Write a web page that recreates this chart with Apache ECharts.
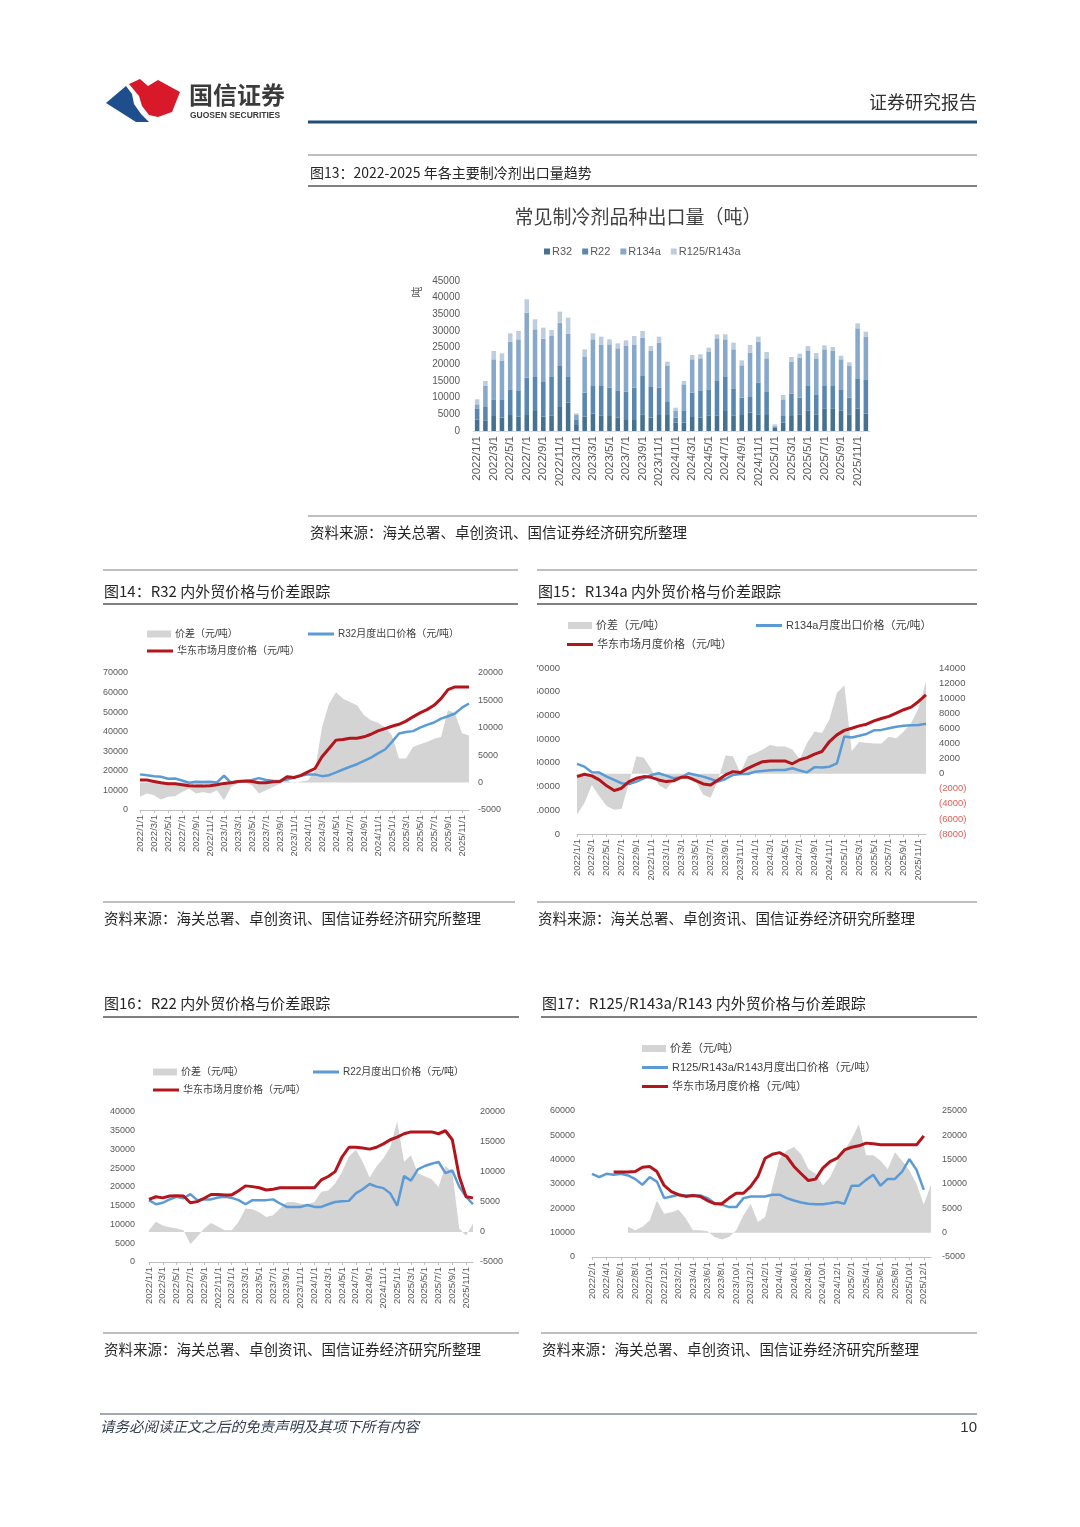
<!DOCTYPE html>
<html><head><meta charset="utf-8">
<script src="https://cdn.jsdelivr.net/npm/echarts@6/dist/echarts.min.js"></script>
<style>html,body{margin:0;padding:0;background:#fff}#c{width:1080px;height:1527px}</style>
</head><body><div id="c"></div>
<script>
// ---------- categories ----------
const months = ['2022/1/1','2022/2/1','2022/3/1','2022/4/1','2022/5/1','2022/6/1','2022/7/1','2022/8/1','2022/9/1','2022/10/1','2022/11/1','2022/12/1',
'2023/1/1','2023/2/1','2023/3/1','2023/4/1','2023/5/1','2023/6/1','2023/7/1','2023/8/1','2023/9/1','2023/10/1','2023/11/1','2023/12/1',
'2024/1/1','2024/2/1','2024/3/1','2024/4/1','2024/5/1','2024/6/1','2024/7/1','2024/8/1','2024/9/1','2024/10/1','2024/11/1','2024/12/1',
'2025/1/1','2025/2/1','2025/3/1','2025/4/1','2025/5/1','2025/6/1','2025/7/1','2025/8/1','2025/9/1','2025/10/1','2025/11/1','2025/12/1'];
const months17 = ['2022/2/1','2022/3/1','2022/4/1','2022/5/1','2022/6/1','2022/7/1','2022/8/1','2022/9/1','2022/10/1','2022/11/1','2022/12/1',
'2023/1/1','2023/2/1','2023/3/1','2023/4/1','2023/5/1','2023/6/1','2023/7/1','2023/8/1','2023/9/1','2023/10/1','2023/11/1','2023/12/1',
'2024/1/1','2024/2/1','2024/3/1','2024/4/1','2024/5/1','2024/6/1','2024/7/1','2024/8/1','2024/9/1','2024/10/1','2024/11/1','2024/12/1',
'2025/1/1','2025/2/1','2025/3/1','2025/4/1','2025/5/1','2025/6/1','2025/7/1','2025/8/1','2025/9/1','2025/10/1','2025/11/1','2025/12/1','2026/1/1'];

// ---------- Fig 13: export volumes (t) ----------
const volR32 = [3500,3200,4500,4000,4800,4300,4800,6000,4300,4700,7200,8500, 1800,4300,5200,4700,4500,4000,3300,3300,5000,4000,4800,4800, 2500,2500,4200,4000,4700,4700,6000,4700,4800,5500,5000,4800, 1000,2500,4500,5000,6200,5000,6800,6800,6200,5000,6700,5200];
const volR22 = [3300,4000,5000,5500,7700,7700,11200,10200,10400,11500,12300,7700, 1700,7200,8500,8800,8500,8200,8500,9700,11500,9200,8200,3900, 1500,3700,7300,8200,7800,10500,10200,8100,5200,4700,9500,6900, 300,2000,6700,5000,7300,5800,6700,6700,6100,5000,9100,10300];
const volR134a = [1200,6300,12000,11500,14300,15500,19500,14300,13000,12300,13000,13000, 1300,10700,13800,12300,13000,12600,13700,12800,11500,10800,13500,10800, 2000,7800,10000,9600,11200,12600,11300,11700,9700,13300,12300,10100, 300,5000,9600,12000,10700,11000,11000,10500,9200,9500,15000,12700];
const volR125 = [1500,1500,2500,2300,2500,2500,4000,3000,3300,1800,3300,4800, 500,2300,1800,2500,1500,1500,1700,2700,2000,1500,1800,1300, 1000,1000,1300,1200,1300,1200,1500,2000,1500,2300,1500,1900, 400,1300,1400,1200,1300,1600,1200,1200,1100,1100,1500,1600];

// ---------- Fig 14: R32 ----------
const r32Spread = [-2600,-2000,-2300,-3100,-2600,-2500,-1700,-1100,-2000,-1700,-2000,-1400,-3200,-800,-100,0,-500,-2000,-1400,-800,-200,400,-100,200,400,2200,10100,14400,16500,15300,14700,14100,12300,11400,10900,10100,8600,4400,4400,6500,7000,7400,8000,8300,13200,12600,9000,8600];
const r32Export = [18200,17700,17300,17000,16000,16100,15100,13900,14400,14300,14400,14100,17500,13900,14600,14800,15300,16300,15300,15000,14800,15600,16600,17500,18200,18200,17300,17800,19200,20700,22100,23400,25100,26800,28900,30900,34800,39100,39900,40300,42100,43500,44700,46700,47900,49300,52300,54400];
const r32East = [15300,15300,14600,13900,13400,13400,12900,12400,12200,12200,12400,12900,13600,13900,14600,14800,14600,13900,13900,14400,14600,17000,16600,17700,19500,21200,27200,31400,35700,36000,36700,36700,37400,38700,40400,41600,42800,43800,45400,47600,49600,51300,53500,56900,61500,62900,62900,62900];

// ---------- Fig 15: R134a ----------
const r134Spread = [-5400,-3900,-1500,-3000,-4300,-4800,-4700,-1200,2300,2100,600,-1500,-2100,-800,-350,-100,-1000,-2800,-3200,-800,2400,2300,100,2300,2700,3200,3800,3600,3600,3200,1900,4100,5600,5400,7200,10700,11700,3000,4200,4100,4000,4000,4900,4700,5600,6700,8700,12200];
const r134Export = [29600,28400,26000,25900,24200,22800,21400,21100,22100,23500,24900,25600,24600,23500,23800,25600,24900,24200,23200,22100,23200,24900,25300,25300,26300,26600,26900,27000,27000,27700,26800,26000,28200,28000,28400,29800,41100,40700,41400,42200,43700,43900,44600,45200,45600,45900,46000,46500];
const r134East = [24200,25200,24500,22800,20300,18300,19300,22100,23500,24200,23900,22800,22100,22400,23900,23900,22500,21100,20700,22800,24900,26300,25900,27700,29100,30500,30800,30800,30800,29600,31300,32200,33700,34800,39000,41800,43700,44600,45600,46300,47700,48700,49600,51000,52400,53500,55900,58700];

// ---------- Fig 16: R22 ----------
const r22Spread = [300,1700,1100,800,600,300,-2000,-800,600,1500,900,300,300,1700,3900,3800,3300,2500,2800,3900,5000,5000,4700,4600,5000,6700,6900,8100,10000,12600,13700,11700,9100,10900,12300,14200,18400,11700,12800,9800,9300,8800,7500,11000,10000,600,-600,1400];
const r22Export = [16500,15400,15800,16700,17400,17000,18100,16500,16700,16700,17200,17400,17100,16500,15400,16500,16500,16500,16700,15600,14700,14700,14700,15200,14700,14700,15400,16000,16200,16300,18300,19400,20800,20100,19700,18300,15000,22900,21700,24700,25600,26200,26700,23700,24400,20100,17400,15400];
const r22East = [16700,17400,17100,17600,17700,17600,15800,16100,17000,18000,18000,17900,17900,19000,20300,20100,19800,19200,19400,19800,19800,19800,19800,19800,19800,21900,22800,24100,28000,30600,30600,30400,30100,30600,31500,32600,33300,34200,34700,34700,34700,34700,34200,35000,32600,22800,17400,17100];

// ---------- Fig 17: R125/R143a/R143 ----------
const r125Spread = [null,null,null,null,null,1200,500,1200,2500,6600,3900,4200,4700,2900,500,500,300,-900,-1400,-900,500,3600,5900,2200,3200,9400,15200,16900,17600,16100,13100,12100,9700,11400,14500,16900,19300,22300,15900,15900,14800,13100,16500,14800,12800,10000,5800,9900];
const r125Export = [34200,32800,34200,33800,34200,33500,32000,29700,32800,31000,24200,24900,25600,25300,25300,25300,24200,22100,21500,20500,20500,24200,24900,24900,24900,25600,25600,24200,23200,22400,21900,21700,21700,22100,22600,21900,29300,29300,31700,33800,29300,32100,32100,35100,40200,35800,27600,null];
const r125East = [null,null,null,34900,34900,34900,35100,36900,37200,35100,29400,26900,25600,24900,25300,24900,23200,21900,21900,24200,26200,26200,29000,33100,40600,42200,42900,41300,37200,34200,31400,32000,36500,39200,40600,44000,45100,45700,46800,46500,46100,46100,46100,46100,46100,46100,49800,null];

// ---------- styles ----------
const AREA = '#d4d4d4', BLUE = '#5b9bd5', RED = '#b3151c';
const LAT = "'Liberation Sans','Noto Sans CJK SC',sans-serif";
const CJK = "'Noto Sans CJK SC',sans-serif";
const LBL = '#595959';

function T(text, x, y, size, o) {
  o = o || {};
  return {type:'text', x:x, y:y, z:100, rotation:o.rot||0,
    style:{text:text, font:(o.italic?'italic ':'')+(o.bold?'bold ':'')+size+'px '+(o.family||CJK),
      fill:o.color||'#262626', textAlign:o.align||'left', textVerticalAlign:'middle'}};
}
function L(x1,y1,x2,y2,w,c){ return {type:'line', z:100, shape:{x1:x1,y1:y1,x2:x2,y2:y2}, style:{stroke:c||'#808080', lineWidth:w}}; }

const plainFmt = function(v){ return String(v); };
const negFmt = function(v){ return v < 0 ? '{neg|(' + (-v) + ')}' : String(v); };

function lineX(gi, data){
  return {type:'category', gridIndex:gi, data:data, boundaryGap:false,
    axisLine:{onZero:false, lineStyle:{color:'#bfbfbf'}},
    axisTick:{show:true, interval:1, length:3, lineStyle:{color:'#bfbfbf'}},
    axisLabel:{interval:1, rotate:90, fontSize:9.5, color:LBL, margin:5, fontFamily:LAT},
    splitLine:{show:false}};
}
function valY(gi, min, max, iv, pos, margin, fs, fmt){
  const a = {type:'value', gridIndex:gi, min:min, max:max, interval:iv, position:pos,
    splitLine:{show:false}, axisLine:{show:false}, axisTick:{show:false},
    axisLabel:{fontSize:fs, color:LBL, margin:margin, fontFamily:LAT, formatter: fmt || plainFmt}};
  if (fmt) { a.axisLabel.rich = {neg:{color:'#e0605a', fontSize:fs, fontFamily:LAT}}; }
  return a;
}
function lineSeries(xi, yl, yr, spread, exp, expName, east){
  return [
    {name:'价差（元/吨）', type:'line', xAxisIndex:xi, yAxisIndex:yr, data:spread, symbol:'none',
      lineStyle:{width:0}, areaStyle:{color:AREA, opacity:1}, itemStyle:{color:AREA}, z:1},
    {name:expName, type:'line', xAxisIndex:xi, yAxisIndex:yl, data:exp, symbol:'none',
      lineStyle:{width:2.5, color:BLUE}, itemStyle:{color:BLUE}, z:2},
    {name:'华东市场月度价格（元/吨）', type:'line', xAxisIndex:xi, yAxisIndex:yl, data:east, symbol:'none',
      lineStyle:{width:3, color:RED}, itemStyle:{color:RED}, z:3}
  ];
}
function leg(name, x, y, kind, fs){
  const isArea = kind === 'area';
  const col = isArea ? AREA : (kind === 'blue' ? BLUE : RED);
  return {data:[{name:name, icon:'rect', itemStyle:{color:col, borderWidth:0}}], left:x, top:y-7, padding:0,
    itemWidth: isArea ? 24 : 26, itemHeight: isArea ? 7 : 3, itemGap:0, selectedMode:false,
    itemStyle:{borderWidth:0},
    textStyle:{fontSize:fs, color:'#404040', fontFamily:LAT, padding:[0,0,0,-1]}};
}

const option = {
  backgroundColor:'#ffffff',
  animation:false,
  textStyle:{fontFamily:LAT},
  grid:[
    {left:473, right:210, top:281, bottom:1096},
    {left:140, right:611, top:673, bottom:717},
    {left:577, right:154, top:668, bottom:693},
    {left:149, right:607, top:1112, bottom:265},
    {left:592, right:149, top:1111, bottom:270}
  ],
  xAxis:[
    {type:'category', gridIndex:0, data:months,
      axisLine:{lineStyle:{color:'#d9d9d9'}}, axisTick:{show:false},
      axisLabel:{interval:1, rotate:90, fontSize:11.5, color:LBL, margin:5, fontFamily:LAT}},
    lineX(1, months), lineX(2, months), lineX(3, months), lineX(4, months17)
  ],
  yAxis:[
    valY(0, 0, 45000, 5000, 'left', 13, 10),
    valY(1, 0, 70000, 10000, 'left', 12, 9),
    valY(1, -5000, 20000, 5000, 'right', 9, 9),
    valY(2, 0, 70000, 10000, 'left', 17, 9.5),
    valY(2, -8000, 14000, 2000, 'right', 13, 9.5, negFmt),
    valY(3, 0, 40000, 5000, 'left', 14, 9),
    valY(3, -5000, 20000, 5000, 'right', 7, 9),
    valY(4, 0, 60000, 10000, 'left', 17, 9),
    valY(4, -5000, 25000, 5000, 'right', 11, 9)
  ],
  legend:[
    {data:['R32','R22','R134a','R125/R143a'], left:544, top:246, padding:0, icon:'rect',
      itemWidth:6, itemHeight:6, itemGap:10, selectedMode:false,
      textStyle:{fontSize:11, color:LBL, fontFamily:LAT, padding:[0,0,0,-3]}},
    leg('价差（元/吨）', 147, 636, 'area', 10),
    leg('R32月度出口价格（元/吨）', 308, 636, 'blue', 10),
    leg('华东市场月度价格（元/吨）', 147, 653, 'red', 10),
    leg('价差（元/吨）', 568, 627, 'area', 11),
    leg('R134a月度出口价格（元/吨）', 756, 627, 'blue', 11),
    leg('华东市场月度价格（元/吨）', 567, 646, 'red', 11),
    leg('价差（元/吨）', 153, 1074, 'area', 10),
    leg('R22月度出口价格（元/吨）', 313, 1074, 'blue', 10),
    leg('华东市场月度价格（元/吨）', 153, 1092, 'red', 10),
    leg('价差（元/吨）', 642, 1050, 'area', 11),
    leg('R125/R143a/R143月度出口价格（元/吨）', 642, 1069, 'blue', 11),
    leg('华东市场月度价格（元/吨）', 642, 1088, 'red', 11)
  ],
  series:[
    {name:'R32', type:'bar', stack:'vol', xAxisIndex:0, yAxisIndex:0, data:volR32, barWidth:'55%', itemStyle:{color:'#46718f'}},
    {name:'R22', type:'bar', stack:'vol', xAxisIndex:0, yAxisIndex:0, data:volR22, barWidth:'55%', itemStyle:{color:'#5987b0'}},
    {name:'R134a', type:'bar', stack:'vol', xAxisIndex:0, yAxisIndex:0, data:volR134a, barWidth:'55%', itemStyle:{color:'#87a8cb'}},
    {name:'R125/R143a', type:'bar', stack:'vol', xAxisIndex:0, yAxisIndex:0, data:volR125, barWidth:'55%', itemStyle:{color:'#bdcddd'}}
  ].concat(
    lineSeries(1, 1, 2, r32Spread, r32Export, 'R32月度出口价格（元/吨）', r32East),
    lineSeries(2, 3, 4, r134Spread, r134Export, 'R134a月度出口价格（元/吨）', r134East),
    lineSeries(3, 5, 6, r22Spread, r22Export, 'R22月度出口价格（元/吨）', r22East),
    lineSeries(4, 7, 8, r125Spread, r125Export, 'R125/R143a/R143月度出口价格（元/吨）', r125East)
  ),
  graphic:[
    // logo
    {type:'polygon', z:100, shape:{points:[[106,103],[126,86],[132,94],[134,104],[141,114],[149,122],[136,122]]}, style:{fill:'#1f4e8c'}},
    {type:'polygon', z:100, shape:{points:[[129,84],[140,79],[148,86],[158,80],[180,92],[172,112],[158,117],[149,115],[142,106],[139,96]]}, style:{fill:'#d7192a'}},
    T('国信证券', 189, 95, 24, {bold:true, color:'#3b3b3b'}),
    T('GUOSEN SECURITIES', 190, 116, 8.5, {bold:true, color:'#3b3b3b', family:"'Liberation Sans',sans-serif"}),
    T('证券研究报告', 977, 102, 18, {align:'right', color:'#333333'}),
    L(308, 122, 977, 122, 3, '#1f4e79'),
    // fig 13
    L(308, 155, 977, 155, 1.2, '#808080'),
    T('图13：2022-2025 年各主要制冷剂出口量趋势', 310, 173, 14),
    L(308, 186, 977, 186, 2, '#808080'),
    T('常见制冷剂品种出口量（吨）', 638, 217, 19, {align:'center', color:'#404040'}),
    T('吨', 417, 292, 11, {align:'center', color:LBL, rot:Math.PI/2}),
    L(308, 516, 977, 516, 1.2, '#808080'),
    T('资料来源：海关总署、卓创资讯、国信证券经济研究所整理', 310, 532, 14.5),
    // fig 14 / 15
    L(103, 570, 518, 570, 1.2, '#808080'),
    T('图14：R32 内外贸价格与价差跟踪', 104, 591, 15),
    L(103, 604, 518, 604, 2, '#808080'),
    L(537, 570, 977, 570, 1.2, '#808080'),
    T('图15：R134a 内外贸价格与价差跟踪', 538, 591, 15),
    L(537, 604, 977, 604, 2, '#808080'),
    {type:'rect', z:1000, shape:{x:519, y:655, width:18, height:190}, style:{fill:'#ffffff'}},
    L(103, 902, 515, 902, 1.2, '#808080'),
    T('资料来源：海关总署、卓创资讯、国信证券经济研究所整理', 104, 918, 14.5),
    L(537, 902, 977, 902, 1.2, '#808080'),
    T('资料来源：海关总署、卓创资讯、国信证券经济研究所整理', 538, 918, 14.5),
    // fig 16 / 17
    T('图16：R22 内外贸价格与价差跟踪', 104, 1003, 15),
    L(103, 1017, 519, 1017, 2, '#808080'),
    T('图17：R125/R143a/R143 内外贸价格与价差跟踪', 542, 1003, 15),
    L(541, 1017, 977, 1017, 2, '#808080'),
    L(103, 1333, 519, 1333, 1.2, '#808080'),
    T('资料来源：海关总署、卓创资讯、国信证券经济研究所整理', 104, 1349, 14.5),
    L(541, 1333, 977, 1333, 1.2, '#808080'),
    T('资料来源：海关总署、卓创资讯、国信证券经济研究所整理', 542, 1349, 14.5),
    // footer
    L(100, 1414, 977, 1414, 1.2, '#44546a'),
    T('请务必阅读正文之后的免责声明及其项下所有内容', 100, 1426, 14.5, {italic:true, color:'#333f50'}),
    T('10', 977, 1428, 15, {align:'right', color:'#333333', family:"'Liberation Sans',sans-serif"})
  ]
};

const chart = echarts.init(document.getElementById('c'), null, {renderer:'canvas'});
chart.setOption(option);
</script></body></html>
